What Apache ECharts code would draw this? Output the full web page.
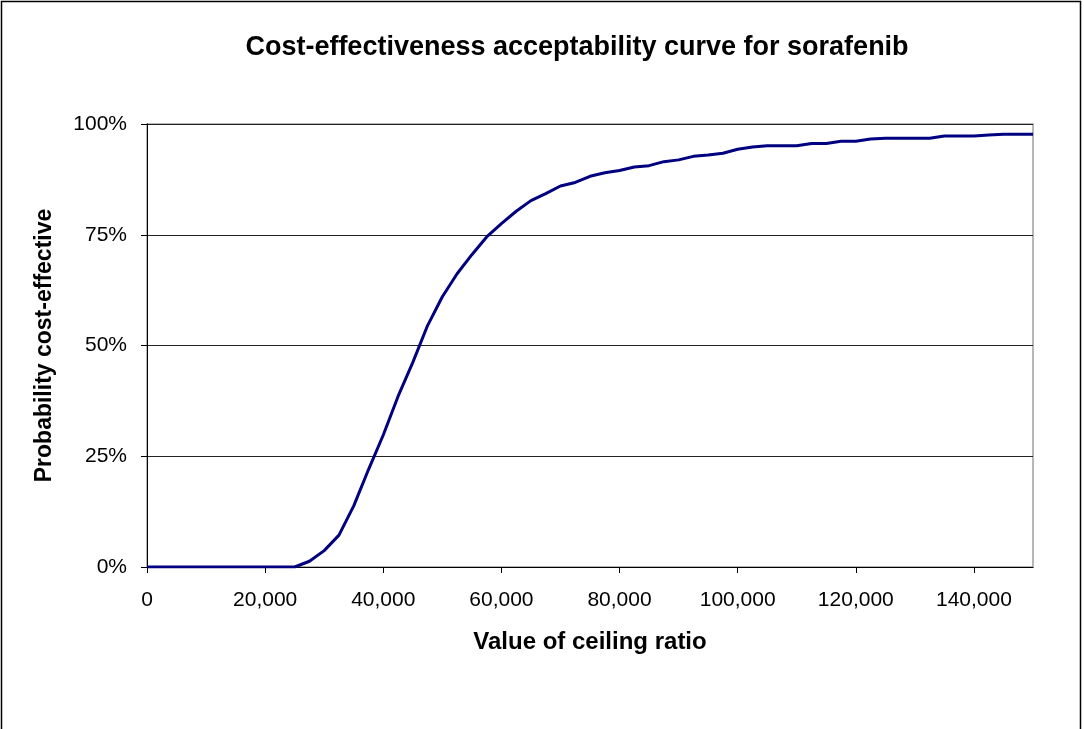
<!DOCTYPE html>
<html>
<head>
<meta charset="utf-8">
<title>Cost-effectiveness acceptability curve for sorafenib</title>
<script src="https://cdn.jsdelivr.net/npm/echarts@6/dist/echarts.min.js"></script>
<style>
  html, body { margin: 0; padding: 0; background: #fff; }
  #chart { width: 1084px; height: 729px; }
</style>
</head>
<body>
<div id="chart"></div>
<script>
// Ceiling ratio values (cost per QALY), one point every 2,500
const ceilingRatios = [
  0, 2500, 5000, 7500, 10000, 12500, 15000, 17500, 20000, 22500,
  25000, 27500, 30000, 32500, 35000, 37500, 40000, 42500, 45000, 47500,
  50000, 52500, 55000, 57500, 60000, 62500, 65000, 67500, 70000, 72500,
  75000, 77500, 80000, 82500, 85000, 87500, 90000, 92500, 95000, 97500,
  100000, 102500, 105000, 107500, 110000, 112500, 115000, 117500, 120000, 122500,
  125000, 127500, 130000, 132500, 135000, 137500, 140000, 142500, 145000, 147500,
  150000
];

// Probability (%) that sorafenib is cost-effective at each ceiling ratio
const probCostEffective = [
  0, 0, 0, 0, 0, 0, 0, 0, 0, 0,
  0, 1.3, 3.7, 7.2, 13.8, 22.0, 29.8, 38.5, 46.2, 54.5,
  61.0, 66.2, 70.5, 74.5, 77.5, 80.3, 82.7, 84.3, 86.0, 86.8,
  88.2, 89.0, 89.5, 90.3, 90.6, 91.5, 91.9, 92.7, 93.0, 93.4,
  94.3, 94.8, 95.1, 95.1, 95.1, 95.6, 95.6, 96.1, 96.1, 96.6,
  96.8, 96.8, 96.8, 96.8, 97.3, 97.3, 97.3, 97.5, 97.7, 97.7,
  97.7
];

// Y axis ticks (percent)
const yTicks = { min: 0, max: 100, step: 25 };

const FONT = 'Liberation Sans, Arial, sans-serif';

const chart = echarts.init(document.getElementById('chart'), null, { renderer: 'canvas' });

chart.setOption({
  backgroundColor: '#ffffff',
  animation: false,
  title: {
    text: 'Cost-effectiveness acceptability curve for sorafenib',
    left: 572,
    top: 29,
    textAlign: 'center',
    textStyle: { fontFamily: FONT, fontSize: 27, fontWeight: 'bold', color: '#000' }
  },
  graphic: [
    {
      type: 'rect',
      shape: { x: 1.5, y: 1.5, width: 1079, height: 800 },
      style: { fill: 'none', stroke: '#000', lineWidth: 1.5 },
      silent: true
    }
  ],
  grid: {
    left: 147,
    right: 51,
    top: 124,
    bottom: 162,
    show: true,
    borderColor: '#a0a0a0',
    borderWidth: 1.5
  },
  xAxis: {
    type: 'category',
    data: ceilingRatios,
    boundaryGap: false,
    name: 'Value of ceiling ratio',
    nameLocation: 'middle',
    nameGap: 63,
    nameTextStyle: { fontFamily: FONT, fontSize: 24, fontWeight: 'bold', color: '#000' },
    axisLine: { show: true, lineStyle: { color: '#000', width: 1 } },
    axisTick: { show: true, interval: 7, length: 6, inside: false, lineStyle: { color: '#000' } },
    axisLabel: {
      interval: 7,
      margin: 23,
      fontFamily: FONT,
      fontSize: 21,
      color: '#000',
      formatter: v => Number(v).toLocaleString('en-US')
    },
    splitLine: { show: false }
  },
  yAxis: {
    type: 'value',
    min: yTicks.min,
    max: yTicks.max,
    interval: yTicks.step,
    name: 'Probability cost-effective',
    nameLocation: 'middle',
    nameGap: 91,
    nameRotate: 90,
    nameTextStyle: { fontFamily: FONT, fontSize: 23, fontWeight: 'bold', color: '#000' },
    axisLine: { show: true, lineStyle: { color: '#000', width: 1 } },
    axisTick: { show: true, length: 6, inside: false, lineStyle: { color: '#000' } },
    axisLabel: {
      margin: 20,
      fontFamily: FONT,
      fontSize: 21,
      color: '#000',
      formatter: '{value}%'
    },
    splitLine: { show: true, lineStyle: { color: '#222', width: 1 } }
  },
  series: [
    {
      type: 'line',
      data: probCostEffective,
      showSymbol: false,
      symbol: 'none',
      smooth: false,
      lineStyle: { color: '#000080', width: 3 },
      itemStyle: { color: '#000080' },
      z: 5
    }
  ]
});
</script>
</body>
</html>
